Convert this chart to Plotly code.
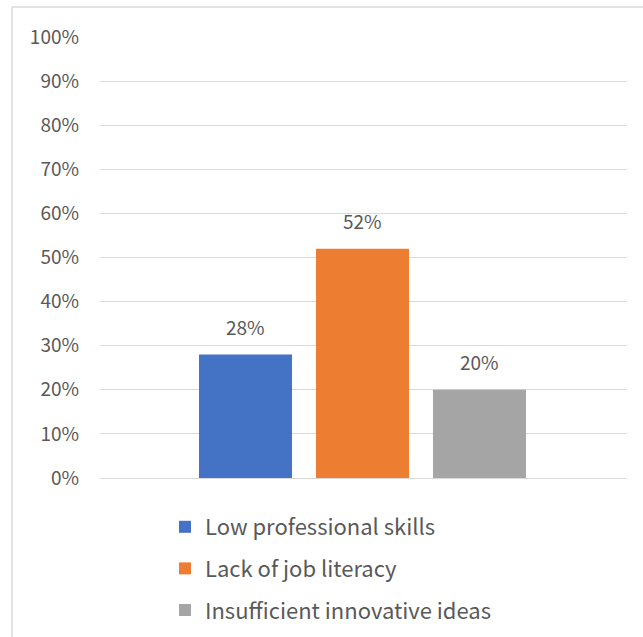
import plotly.graph_objects as go

series_names = ["Low professional skills", "Lack of job literacy", "Insufficient innovative ideas"]
values = [0.28, 0.52, 0.20]
colors = ["#4472C4", "#ED7D31", "#A5A5A5"]
y_ticks = [i / 10 for i in range(11)]

FONT = "Noto Sans CJK SC"
TXT = "#595959"

W, H = 643, 637
L, R, T, B = 100, 16, 37, 159
pw, ph = W - L - R, H - T - B

fig = go.Figure()
for i, (name, v, c) in enumerate(zip(series_names, values, colors)):
    fig.add_trace(go.Bar(
        x=[name], y=[v], name=name, width=0.795,
        marker=dict(color=c, line=dict(width=0)),
        legendgroup=f"g{i}",
    ))
    fig.add_annotation(
        x=name, y=v, text=f"{v:.0%}", showarrow=False,
        yanchor="middle", yshift=28,
        font=dict(family=FONT, size=19, color=TXT),
    )

fig.update_layout(
    width=W, height=H,
    margin=dict(l=L, r=R, t=T, b=B, autoexpand=False),
    paper_bgcolor="white", plot_bgcolor="white",
    showlegend=True,
    legend=dict(
        orientation="v", x=(165 - L) / pw, xanchor="left",
        y=(H - B - 506) / ph, yanchor="top",
        font=dict(family=FONT, size=22, color=TXT),
        traceorder="grouped", tracegroupgap=10,
        bgcolor="rgba(0,0,0,0)",
    ),
    xaxis=dict(
        type="category", categoryarray=series_names,
        range=[-1.244, 3.261],
        showticklabels=False, showgrid=False, zeroline=False, showline=False, ticks="",
    ),
    yaxis=dict(
        range=[0, 1], tickvals=y_ticks, tickformat=".0%",
        showgrid=True, gridcolor="#D9D9D9", gridwidth=1,
        zeroline=True, zerolinecolor="#D9D9D9", zerolinewidth=1,
        showline=False, ticks="",
        tickfont=dict(family=FONT, size=19, color=TXT),
        ticklabelstandoff=20,
    ),
    font=dict(family=FONT, color=TXT),
    shapes=[
        dict(type="line", xref="paper", yref="paper",
             x0=(12 - L) / pw, x1=(W + 5 - L) / pw,
             y0=1 + (T - 7) / ph, y1=1 + (T - 7) / ph,
             line=dict(color="#D9D9D9", width=1.5)),
        dict(type="line", xref="paper", yref="paper",
             x0=(12 - L) / pw, x1=(12 - L) / pw,
             y0=1 + (T - 7) / ph, y1=-(B + 5) / ph,
             line=dict(color="#D9D9D9", width=1.5)),
    ],
)

fig.write_html("out.html")
